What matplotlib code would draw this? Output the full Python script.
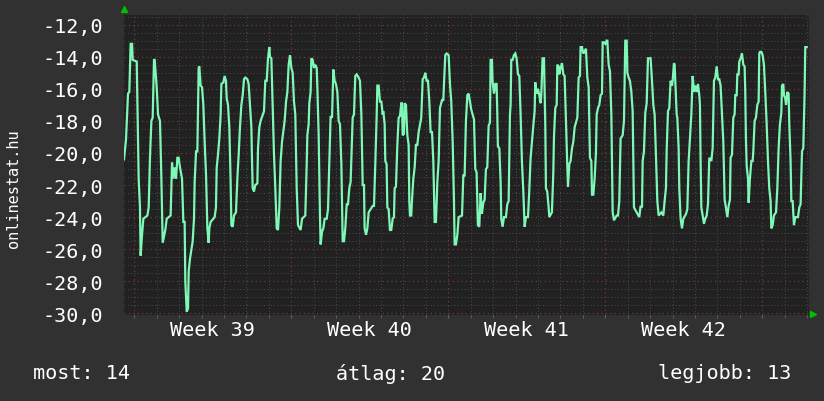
import matplotlib.pyplot as plt
from matplotlib.ticker import MultipleLocator, FuncFormatter

# hours since the left edge of the graph, and the rank (plotted negative)
hours = [
    0.0, 2.1, 4.3, 5.7, 7.1, 8.6, 9.3, 13.6, 14.3, 15.7,
    17.1, 17.8, 19.3, 20.7, 25.0, 26.4, 27.8, 29.3, 30.7, 32.1,
    32.8, 35.0, 36.4, 38.5, 40.0, 41.4, 44.2, 45.7, 49.9, 51.4,
    52.8, 54.2, 55.7, 57.1, 58.5, 59.9, 62.1, 63.5, 64.9, 65.6,
    67.1, 68.5, 69.2, 70.6, 73.5, 74.9, 75.6, 77.1, 78.5, 79.9,
    80.6, 82.0, 83.5, 84.9, 86.3, 87.8, 89.2, 90.6, 91.3, 92.7,
    97.0, 98.4, 99.2, 100.6, 102.0, 103.4, 104.2, 106.3, 107.7, 109.1,
    109.9, 111.3, 112.7, 114.1, 114.9, 116.3, 117.7, 119.8, 121.3, 122.7,
    124.1, 125.6, 127.0, 128.4, 129.8, 132.0, 133.4, 134.8, 136.3, 137.0,
    137.7, 139.1, 140.5, 142.7, 143.4, 144.8, 146.2, 149.8, 151.2, 152.7,
    154.1, 155.5, 156.2, 157.7, 159.1, 160.5, 161.9, 163.4, 164.8, 166.2,
    167.6, 169.1, 171.9, 173.4, 174.8, 176.2, 177.6, 179.1, 180.5, 181.9,
    183.3, 184.8, 186.2, 189.0, 190.5, 194.0, 195.5, 196.2, 197.6, 198.3,
    199.7, 200.5, 201.9, 203.3, 204.7, 206.2, 206.9, 208.3, 209.7, 210.4,
    211.9, 213.3, 214.7, 216.9, 218.3, 219.7, 221.1, 222.6, 224.0, 225.4,
    226.8, 228.3, 229.7, 231.1, 232.6, 233.3, 234.0, 235.4, 236.8, 238.3,
    239.7, 241.1, 242.5, 244.7, 246.1, 247.5, 249.0, 251.1, 252.5, 254.0,
    255.4, 256.8, 257.5, 259.0, 260.4, 261.8, 266.1, 267.5, 268.9, 270.4,
    271.1, 272.5, 273.9, 275.4, 276.8, 277.5, 278.9, 279.6, 281.0, 281.8,
    283.2, 284.6, 286.0, 287.5, 288.9, 289.6, 291.0, 292.5, 293.9, 295.3,
    296.7, 297.4, 298.2, 299.6, 300.3, 301.7, 303.2, 304.6, 305.3, 306.0,
    307.4, 308.1, 309.6, 311.0, 312.4, 313.9, 315.3, 318.1, 319.6, 321.0,
    322.4, 323.8, 325.3, 326.7, 328.1, 329.6, 331.0, 332.4, 333.8, 335.3,
    336.7, 338.1, 340.3, 341.7, 342.4, 343.8, 345.2, 347.4, 348.8, 350.2,
    351.7, 353.1, 353.8, 355.2, 356.7, 358.1, 361.7, 363.1, 364.5, 365.9,
    367.4, 368.8, 370.2, 371.6, 374.5, 375.9, 377.3, 378.7, 380.2, 381.6,
    383.0, 384.5, 385.9, 387.3, 388.7, 390.2, 391.6, 392.3, 393.7, 394.4,
    395.9, 397.3, 398.7, 399.4, 400.1, 401.6, 403.0, 403.7, 405.1, 406.6,
    408.7, 410.1, 411.6, 413.0, 413.7, 414.4, 415.8, 417.3, 418.7, 420.1,
    421.6, 423.0, 424.4, 425.8, 427.3, 428.7, 430.1, 432.3, 433.7, 435.1,
    436.5, 438.0, 439.4, 440.1, 441.5, 443.0, 444.4, 445.8, 446.5, 447.9,
    449.4, 450.8, 451.5, 452.9, 454.4, 455.1, 457.9, 459.4, 460.1, 461.5,
    463.0, 463.7, 465.1, 465.8, 467.2, 468.7, 470.1, 471.5, 472.9, 474.4,
    475.1, 476.5, 477.9, 479.4, 480.8, 482.2, 485.1, 486.5, 487.9, 488.6,
    490.1, 491.5, 492.9, 494.3, 495.8, 497.2, 498.6, 500.1, 500.8, 502.2,
    503.6, 505.0, 505.8, 507.2, 508.6, 510.0, 511.5, 512.2, 513.6, 515.0,
    516.5, 517.2, 518.6, 520.0, 521.5, 522.9, 524.3, 527.2, 528.6, 530.0,
    531.4, 533.6, 535.0, 536.4, 537.9, 538.6, 540.0, 541.4, 542.9, 544.3,
    545.7, 548.6, 551.4, 552.8, 554.3, 555.0, 556.4, 557.8, 559.3, 560.7,
    563.5, 565.0, 566.4, 567.8, 569.2, 570.7, 572.1, 575.0, 577.1, 578.5,
    579.9, 580.7, 582.1, 583.5, 584.9, 586.4, 587.1, 588.5, 589.2, 589.9,
    591.4, 592.1, 593.5, 594.2, 595.6, 597.1, 598.5, 601.4, 602.8, 604.2,
    605.6, 607.1, 608.5, 609.9, 611.3, 612.8, 614.2, 615.6, 616.3, 617.0,
    617.8, 619.2, 620.6, 622.0, 623.5, 624.9, 626.3, 628.5, 629.9, 631.3,
    632.7, 634.2, 635.6, 637.0, 638.4, 639.9, 641.3, 642.7, 644.1, 645.6,
    647.0, 648.4, 649.1, 650.6, 652.0, 653.4, 654.1, 655.6, 656.3, 657.7,
    658.4, 659.8, 661.3, 662.7, 664.1, 664.8, 665.5, 666.3, 667.7, 668.4,
    669.8, 671.3, 672.7, 673.4, 674.8, 676.2, 677.7, 679.1, 679.8, 680.5,
    682.0, 683.4, 684.8, 686.2, 687.7, 689.1, 690.5, 691.9, 692.7, 694.1,
    695.5, 697.7, 699.1, 700.5, 701.9, 703.4, 704.1, 705.5, 706.2, 707.6,
    708.4, 709.8, 711.2, 711.9, 713.3, 714.1, 715.5, 716.9, 718.3, 721.2,
    722.6, 724.0, 725.5, 726.9, 728.3, 729.0, 730.5,
]
rank = [
    -20.4, -19.2, -16.3, -16.2, -13.2, -13.2, -14.2, -14.3, -16.8, -21.6,
    -23.4, -26.4, -25.1, -24.1, -23.9, -23.4, -20.3, -18.0, -17.8, -14.2,
    -14.2, -15.9, -17.6, -18.0, -21.6, -25.6, -24.8, -24.1, -23.9, -20.6,
    -21.6, -20.9, -21.6, -20.3, -20.3, -20.9, -21.6, -24.3, -24.3, -28.0,
    -29.9, -29.7, -27.4, -26.6, -25.5, -24.1, -21.8, -19.9, -19.9, -14.7,
    -14.6, -15.8, -15.9, -17.0, -19.3, -21.4, -24.7, -25.6, -24.7, -24.3,
    -24.0, -23.4, -20.9, -20.1, -19.1, -17.6, -15.7, -15.6, -15.2, -15.5,
    -16.6, -17.0, -18.4, -21.8, -24.5, -24.6, -23.9, -23.7, -21.6, -20.1,
    -18.4, -17.0, -16.4, -15.4, -15.3, -15.4, -15.7, -17.0, -18.4, -20.5,
    -22.2, -22.4, -22.0, -21.9, -19.7, -18.4, -18.0, -17.4, -15.5, -15.5,
    -14.1, -13.4, -14.0, -14.1, -17.0, -20.1, -22.2, -24.7, -24.8, -23.4,
    -20.5, -19.3, -18.0, -16.8, -16.2, -14.5, -13.9, -14.7, -15.0, -16.8,
    -17.6, -22.2, -24.5, -24.8, -24.1, -23.9, -20.7, -18.9, -18.2, -16.9,
    -16.2, -14.1, -14.2, -14.7, -14.5, -14.7, -15.9, -18.9, -23.9, -25.7,
    -24.9, -24.7, -24.1, -24.1, -23.5, -20.7, -17.7, -17.8, -14.8, -15.5,
    -15.7, -16.2, -18.0, -18.2, -20.7, -23.0, -25.5, -25.5, -24.7, -23.2,
    -23.2, -22.2, -21.8, -17.8, -17.6, -15.2, -15.1, -15.3, -15.5, -17.6,
    -22.0, -22.0, -24.7, -25.1, -24.7, -23.7, -23.3, -23.3, -20.7, -17.6,
    -15.8, -15.8, -16.8, -16.8, -17.6, -17.4, -18.2, -20.5, -20.7, -23.4,
    -23.5, -24.8, -24.8, -24.1, -24.0, -22.2, -22.1, -19.5, -17.8, -17.7,
    -16.9, -16.9, -18.9, -18.8, -16.9, -17.0, -18.9, -19.5, -23.0, -23.9,
    -23.9, -23.0, -21.6, -20.9, -19.5, -19.5, -18.7, -17.8, -15.4, -15.3,
    -15.0, -15.5, -15.5, -16.8, -18.7, -18.7, -20.5, -24.3, -24.3, -21.8,
    -20.5, -17.2, -16.7, -16.7, -15.7, -13.9, -13.8, -13.9, -15.7, -16.8,
    -19.3, -23.0, -25.7, -25.7, -25.1, -24.0, -23.9, -21.4, -21.4, -18.0,
    -16.4, -16.3, -16.8, -17.3, -17.9, -21.0, -21.2, -24.5, -24.6, -22.5,
    -23.8, -23.1, -22.9, -21.0, -20.9, -18.3, -18.1, -14.2, -14.2, -15.5,
    -16.3, -15.7, -15.7, -17.4, -19.6, -19.7, -21.8, -24.1, -24.6, -24.0,
    -24.0, -23.2, -23.0, -17.6, -17.0, -14.2, -14.2, -13.9, -13.8, -14.1,
    -15.1, -15.2, -17.6, -20.5, -22.4, -24.6, -24.0, -24.0, -22.3, -20.3,
    -19.3, -18.3, -17.4, -15.6, -16.3, -16.0, -16.4, -16.9, -16.4, -14.1,
    -14.1, -18.2, -22.2, -22.4, -23.4, -24.0, -23.7, -21.2, -19.0, -17.2,
    -17.0, -14.5, -14.6, -15.1, -14.7, -14.4, -15.1, -15.2, -18.0, -20.9,
    -22.1, -20.7, -20.5, -19.7, -19.3, -18.4, -17.8, -15.3, -15.2, -13.4,
    -13.4, -13.8, -13.7, -13.5, -15.3, -15.9, -20.3, -20.5, -22.6, -22.6,
    -21.6, -20.0, -17.6, -17.2, -17.0, -16.4, -16.3, -13.1, -13.1, -13.2,
    -13.0, -13.0, -14.5, -14.9, -17.6, -23.7, -24.2, -23.9, -23.9, -23.0,
    -19.1, -18.9, -18.0, -13.0, -13.0, -15.0, -15.3, -15.5, -16.2, -17.4,
    -23.4, -23.7, -24.0, -23.3, -23.4, -20.5, -19.9, -17.5, -16.9, -14.1,
    -14.1, -15.5, -17.0, -17.6, -20.1, -23.0, -23.9, -23.7, -23.9, -23.0,
    -22.2, -19.8, -17.4, -17.2, -15.5, -15.8, -15.5, -14.4, -14.5, -15.5,
    -17.6, -17.8, -19.7, -22.2, -24.1, -24.7, -24.1, -23.8, -23.5, -20.5,
    -19.1, -17.6, -15.2, -16.2, -15.8, -16.2, -15.7, -16.4, -17.0, -20.5,
    -23.4, -23.9, -24.4, -24.1, -23.9, -23.2, -20.3, -20.5, -19.7, -15.5,
    -15.3, -14.6, -15.4, -15.4, -15.8, -17.6, -19.3, -22.9, -23.4, -24.0,
    -23.3, -22.9, -20.3, -20.1, -17.8, -17.6, -16.4, -16.4, -15.1, -15.1,
    -14.3, -14.1, -13.8, -14.5, -14.6, -16.2, -19.1, -20.8, -21.6, -23.1,
    -21.6, -20.5, -20.5, -19.9, -18.0, -17.8, -17.0, -16.8, -13.8, -13.7,
    -13.7, -13.9, -14.5, -16.2, -18.2, -20.5, -22.2, -23.0, -24.7, -24.5,
    -23.9, -23.7, -22.2, -19.7, -18.2, -17.5, -15.8, -15.7, -16.4, -16.6,
    -17.0, -16.2, -16.3, -18.2, -20.5, -23.0, -23.0, -24.5, -24.0, -24.0,
    -23.4, -23.2, -19.9, -19.7, -16.2, -13.4, -13.4,
]

week_labels = ["Week 39", "Week 40", "Week 41", "Week 42"]
week_start = 11.0      # hour of the first Monday 00:00 in the window
window_hours = 733.0

most, atlag, legjobb = 14, 20, 13

BG = "#313131"
CANVAS = "#212121"
LINE = "#7ff7b6"
MONO = "DejaVu Sans Mono"

fig = plt.figure(figsize=(8.24, 4.02), dpi=100, facecolor=BG)
ax = fig.add_axes([124 / 824, 86 / 402, 685 / 824, 300 / 402])
ax.set_facecolor(CANVAS)

ax.set_xlim(0, window_hours)
ax.set_ylim(-30.1, -11.4)

# grid: gray dotted minor, red dotted major
ax.xaxis.set_major_locator(MultipleLocator(168, offset=week_start))
ax.xaxis.set_minor_locator(MultipleLocator(24, offset=week_start))
ax.yaxis.set_major_locator(MultipleLocator(2))
ax.yaxis.set_minor_locator(MultipleLocator(0.5))
ax.grid(which="minor", color="#4c4c4c", linestyle=(0, (1, 2.5)), linewidth=0.7)
ax.grid(which="major", color="#7a3838", linestyle=(0, (1, 2.5)), linewidth=0.9)
ax.set_axisbelow(True)

ax.yaxis.set_major_formatter(FuncFormatter(lambda v, p: f"{v:.1f}".replace(".", ",")))
ax.xaxis.set_major_formatter(FuncFormatter(lambda v, p: ""))
ax.tick_params(axis="y", which="both", length=0, pad=15, labelcolor="white",
               labelsize=14.5, labelfontfamily=MONO)
ax.tick_params(axis="x", which="both", length=2, color="#666666", direction="out")
for s in ax.spines.values():
    s.set_visible(False)

ax.plot(hours, rank, color=LINE, linewidth=1.6, solid_joinstyle="miter")

for i, lab in enumerate(week_labels):
    ax.text(week_start + 84 + 168 * i, -0.05, lab, transform=ax.get_xaxis_transform(),
            ha="center", va="center", color="white", fontsize=14.5, family=MONO)

# rrdtool style axis arrows
ax.plot([0], [1.02], marker="^", color="#00c000", markersize=4, transform=ax.transAxes, clip_on=False)
ax.plot([1.006], [0.005], marker=">", color="#00c000", markersize=4, transform=ax.transAxes, clip_on=False)

fig.text(14 / 824, 1 - 189 / 402, "onlinestat.hu", rotation=90, ha="center", va="center",
         color="white", fontsize=11, family=MONO)

fig.text(33 / 824, 1 - 374 / 402, f"most: {most}", ha="left", va="center",
         color="white", fontsize=14.5, family=MONO)
fig.text(391 / 824, 1 - 374 / 402, f"átlag: {atlag}", ha="center", va="center",
         color="white", fontsize=14.5, family=MONO)
fig.text(791 / 824, 1 - 374 / 402, f"legjobb: {legjobb}", ha="right", va="center",
         color="white", fontsize=14.5, family=MONO)

fig.savefig("out.png", dpi=100, facecolor=BG)
